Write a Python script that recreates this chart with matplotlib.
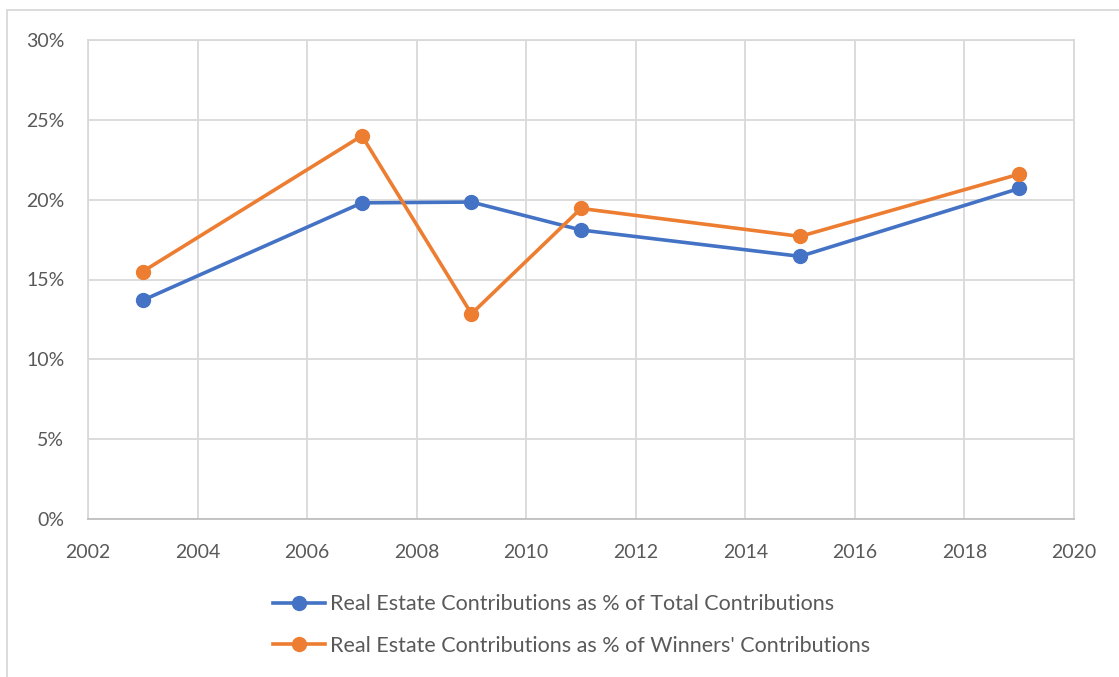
import matplotlib
matplotlib.use("Agg")
import matplotlib.pyplot as plt
from matplotlib.patches import Rectangle
from matplotlib.ticker import PercentFormatter

years = [2003, 2007, 2009, 2011, 2015, 2019]
pct_total = [13.7, 19.8, 19.85, 18.1, 16.45, 20.7]
pct_winners = [15.5, 24.0, 12.85, 19.45, 17.7, 21.6]

label_total = "Real Estate Contributions as % of Total Contributions"
label_winners = "Real Estate Contributions as % of Winners' Contributions"

BLUE = "#4472c4"
ORANGE = "#ed7d31"
TEXT = "#595959"
GRID = "#d9d9d9"

plt.rcParams["font.family"] = ["Lato", "DejaVu Sans"]

fig = plt.figure(figsize=(11.19, 6.77), dpi=100)
ax = fig.add_axes([88 / 1119, 1 - 519 / 677, (1074 - 88) / 1119, (519 - 40) / 677])

# chart-area border (Excel style), cropped at right/bottom
fig.add_artist(Rectangle((7 / 1119, -0.05), 1.2, (677 - 10) / 677 + 0.05,
                         transform=fig.transFigure, fill=False, ec=GRID, lw=1.3))

ax.plot(years, pct_total, color=BLUE, lw=2.6, marker="o", ms=10, label=label_total, zorder=3)
ax.plot(years, pct_winners, color=ORANGE, lw=2.6, marker="o", ms=10, label=label_winners, zorder=3)

ax.set_xlim(2002, 2020)
ax.set_ylim(0, 30)
ax.set_xticks(range(2002, 2021, 2))
ax.set_yticks(range(0, 31, 5))
ax.yaxis.set_major_formatter(PercentFormatter(decimals=0))
ax.grid(True, color=GRID, lw=1.3)
ax.set_axisbelow(True)
for s in ax.spines.values():
    s.set_color(GRID)
    s.set_linewidth(1.3)
ax.spines["bottom"].set_color("#bfbfbf")
ax.tick_params(length=0, labelsize=14, labelcolor=TEXT)
ax.tick_params(axis="x", pad=18)
ax.tick_params(axis="y", pad=17)

leg = fig.legend(loc="center", bbox_to_anchor=(572 / 1119, 1 - 625 / 677), ncol=1,
                 frameon=False, fontsize=15.5, labelcolor=TEXT, handlelength=2.4,
                 handletextpad=0.25, labelspacing=1.0)

fig.savefig("out.png", dpi=100)
